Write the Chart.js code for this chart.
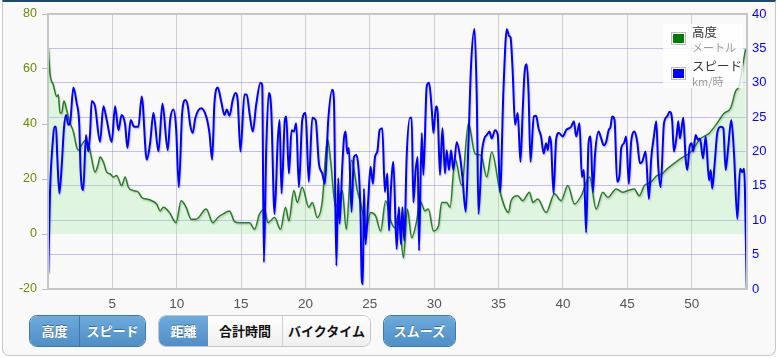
<!DOCTYPE html>
<html>
<head>
<meta charset="utf-8">
<script src="https://cdn.jsdelivr.net/npm/chart.js@4.4.1/dist/chart.umd.min.js"></script>
<style>
body{margin:0;background:#fff;width:778px;height:358px;overflow:hidden;font-family:"Liberation Sans",Arial,sans-serif}
#panel{position:absolute;left:2px;top:0;width:772px;height:353px;background:#f9f9f9;border:1px solid #c8c8c8;border-top:2px solid #1d4b6d;border-radius:0 0 7px 7px}
#c{position:absolute;left:0;top:0}
#legend{position:absolute;left:663px;top:24px;width:80px;height:64px;background:rgba(255,255,255,0.78)}
.sw{position:absolute;left:8px;width:11px;height:9px;border:1px solid #bdbdbd;padding:1px;background:#fff}
.sw i{display:block;width:11px;height:9px}
.lt{position:absolute;left:29px;line-height:14px;white-space:nowrap;font-family:"Noto Sans CJK JP",sans-serif}
.t1{color:#333;font-size:12.5px}
.t2{color:#999;font-size:11px}
.grp{position:absolute;top:315px;height:30px;display:flex;border-radius:8px;overflow:hidden;border:1px solid #3a78ad}
.grp.w{border-color:#c4c4c4}
.b{height:30px;line-height:30px;text-align:center;font-size:13px;font-weight:bold;font-family:"Noto Sans CJK JP",sans-serif;box-sizing:border-box}
.on{background:linear-gradient(#6eaadb,#4f8fc7);color:#fff;text-shadow:0 -1px 0 rgba(0,0,0,0.35)}
.off{background:linear-gradient(#ffffff,#efefef);color:#111}
</style>
</head>
<body>
<div id="panel"></div>
<canvas id="c" width="778" height="312"></canvas>

<div id="legend">
  <div class="sw" style="top:8px"><i style="background:#007a00"></i></div>
  <div class="lt t1" style="top:1px">高度</div>
  <div class="lt t2" style="top:16px">メートル</div>
  <div class="sw" style="top:43px"><i style="background:#0000ff"></i></div>
  <div class="lt t1" style="top:35px">スピード</div>
  <div class="lt t2" style="top:50px">km/時</div>
</div>

<div class="grp" style="left:29px;width:115px">
  <div class="b on" style="width:50px;border-right:1px solid #3a78ad">高度</div>
  <div class="b on" style="width:65px">スピード</div>
</div>
<div class="grp w" style="left:158px;width:211px">
  <div class="b on" style="width:49px">距離</div>
  <div class="b off" style="width:75px;border-right:1px solid #d0d0d0">合計時間</div>
  <div class="b off" style="width:87px">バイクタイム</div>
</div>
<div class="grp" style="left:383px;width:71px">
  <div class="b on" style="width:71px">スムーズ</div>
</div>

<script>
// 距離 (km) と 高度 (m)
const elevKm = [0.02,0.16,0.41,0.67,0.80,0.93,1.06,1.24,1.45,1.71,
  1.97,2.22,2.36,2.61,2.88,3.13,3.39,3.65,3.91,4.04,
  4.30,4.56,4.82,5.08,5.33,5.72,5.99,6.24,6.63,7.02,
  7.28,7.67,8.06,8.44,8.71,8.97,
  9.43,9.95,10.34,10.73,11.12,11.51,12.29,12.80,13.19,13.58,
  14.10,14.49,14.88,15.66,16.04,16.43,16.82,17.08,17.60,18.06,
  18.45,18.71,19.10,19.36,19.75,20.26,20.53,20.92,21.31,21.70,
  21.95,22.34,22.86,23.17,23.58,24.03,24.42,24.67,25.06,25.45,
  25.84,26.23,26.62,
  26.95,27.22,27.61,27.92,28.25,28.64,28.90,29.28,29.55,29.94,
  30.33,30.58,30.97,31.23,31.62,32.14,32.66,33.17,33.64,34.08,
  34.47,35.12,35.77,
  35.97,36.49,36.88,37.40,37.66,38.05,38.69,39.35,39.86,40.38,
  40.90,41.42,42.07,42.58,43.10,43.49,44.14,44.66,45.05,
  45.54,45.93,46.32,46.81,47.33,47.71,48.10,48.62,49.14,49.92,
  50.70,51.35,51.87,52.52,53.03,53.41,53.67,53.93,54.19];
const elevM = [67.8,58,54.3,50,50.6,44,44,48.5,45,40.4,
  37.2,31.7,30.5,32.3,34,33,27.4,22.5,25.6,28,
  26.2,22.5,21.9,20.7,21.3,17.6,20.7,17,15.8,15.2,
  13.3,12.7,12.1,10.9,8.4,9.7,
  7.8,4.1,12.1,9.7,5.4,5.4,9.1,4.1,6.0,7.2,
  8.4,4.5,4.1,4.1,1.7,7.2,9.1,4.1,6.0,1.7,
  9.7,4.8,15.8,11.5,17,9.7,11.5,6,12.1,34.7,
  26.8,9.7,15.8,1.7,26.8,15.8,8.4,1.1,7.8,6.6,
  1.1,12.1,4.8,
  2.3,7.2,-8.7,9.1,-1.4,4.8,12.1,8.4,9.1,1.1,
  2.9,11.5,11.5,9.7,27.4,17.6,40.3,29.2,28.6,20.7,
  29.8,15.2,7.8,
  12.1,13.9,12.1,15.2,11.5,12.7,7.8,14.6,12.1,17.6,
  10.9,13.9,20.7,9.1,15.2,13.3,16.4,15.2,15.8,
  16.4,13.9,17.6,18.8,21.3,21.9,23.7,25.6,27.4,29.8,
  34.7,36.6,39.6,43.9,45.8,51.9,53.7,60.4,67.2];

// 距離 (km) と スピード (km/時)
const speedKm = [0.02,0.16,0.36,0.49,0.62,0.72,0.88,1.06,1.24,1.40,
  1.58,1.71,1.97,2.22,2.43,2.53,2.74,2.95,3.13,3.27,
  3.39,3.65,4.04,4.30,4.56,4.95,5.21,5.47,5.72,5.99,
  6.17,6.42,6.69,7.02,7.28,7.67,7.93,8.19,8.58,8.89,
  9.30,9.49,9.74,9.95,10.16,10.42,10.68,10.86,11.04,11.24,
  11.45,11.90,12.29,12.54,12.75,12.93,13.19,13.45,13.71,13.89,
  14.10,14.35,14.56,14.74,14.95,15.26,15.44,15.65,15.91,16.17,
  16.51,16.64,16.77,16.95,17.15,17.34,17.60,17.85,17.99,
  18.14,18.40,18.51,18.71,18.92,19.10,19.28,19.49,19.75,20.01,
  20.26,20.53,20.79,21.04,21.31,21.51,21.77,22.08,22.21,22.40,
  22.55,22.65,22.86,22.99,23.12,23.25,23.37,23.58,23.76,23.95,
  24.15,24.28,24.36,24.46,24.54,24.67,24.88,25.06,25.24,25.40,
  25.58,25.76,25.97,26.17,26.36,26.49,26.62,
  26.83,27.08,27.26,27.42,27.53,27.68,27.86,28.12,28.25,28.38,
  28.56,28.72,28.82,29.03,29.16,29.42,29.60,29.81,29.94,30.14,
  30.27,30.45,30.64,30.84,30.97,31.15,31.31,31.49,31.75,32.01,
  32.19,32.45,32.66,32.86,33.13,33.31,33.44,33.70,33.90,34.08,
  34.29,34.47,34.73,34.94,35.12,35.38,35.64,35.82,
  35.93,36.10,36.28,36.49,36.70,36.88,37.01,37.19,37.33,37.48,
  37.74,37.92,38.10,38.30,38.51,38.69,38.83,38.96,39.08,39.27,
  39.47,39.68,39.99,40.25,40.64,40.85,41.03,41.29,41.47,41.63,
  41.80,41.99,42.15,42.33,42.50,42.77,42.97,43.18,43.36,43.55,
  43.70,43.83,44.01,44.21,44.40,44.53,44.74,44.91,
  45.12,45.30,45.57,45.77,45.98,46.16,46.42,46.68,46.86,47.07,
  47.25,47.40,47.59,47.85,48.10,48.29,48.49,48.62,48.83,48.96,
  49.09,49.35,49.53,49.66,49.84,50.00,50.12,50.31,50.49,50.65,
  50.88,51.09,51.35,51.48,51.60,51.79,51.99,52.26,52.46,52.64,
  52.82,53.08,53.29,53.55,53.76,53.93,54.07,54.28];
const speedKmh = [2.4,14.4,21.2,23.6,23.6,19.2,13.9,17.8,23.4,25.3,
  23.9,24.1,29.3,27.1,23.9,17.3,14.4,22.4,20.0,22.7,
  27.3,26.6,21.4,26.6,24.6,21.4,26.6,23.1,25.3,23.9,
  20.5,24.6,23.6,23.6,28.0,18.8,21.2,25.6,20.0,27.0,
  20.2,24.6,26.1,23.4,14.8,25.6,27.5,26.6,23.9,22.7,
  24.9,26.3,25.1,22.7,18.8,27.1,29.3,27.3,25.3,26.1,
  25.2,27.5,28.5,27.3,20.0,28.3,28.3,25.6,22.9,26.8,
  30.0,29.7,3.9,20.2,28.5,26.1,10.9,21.7,24.6,
  13.9,24.6,25.1,16.8,23.1,22.9,24.1,14.8,24.6,25.6,
  15.6,24.9,24.6,18.3,16.8,15.3,24.6,29.0,27.5,3.4,
  16.1,9.5,17.8,21.9,22.9,19.7,20.5,11.2,19.2,19.5,
  16.8,10.7,1.9,0.7,14.6,6.5,13.1,17.8,15.3,19.2,
  20.0,23.1,23.4,14.1,16.8,8.5,13.9,
  18.5,5.8,11.9,6.5,11.9,7.0,19.2,24.9,24.9,12.6,
  17.3,19.2,5.6,22.7,16.6,29.5,30.0,26.1,22.7,26.6,
  25.6,16.6,23.4,16.8,20.2,17.3,20.2,17.3,21.4,19.2,
  16.3,11.2,21.2,32.4,37.8,27.5,10.9,19.7,21.9,22.4,
  22.9,21.9,23.1,22.4,14.1,29.0,37.8,36.8,
  36.6,31.5,23.9,25.6,18.5,26.1,31.2,32.7,28.5,18.5,
  25.1,25.2,23.4,22.2,19.7,21.2,20.2,22.2,21.2,13.9,
  21.7,22.7,22.2,23.1,23.6,24.4,22.2,24.1,16.3,17.3,
  8.2,21.2,22.2,14.1,19.7,22.9,21.9,20.9,21.4,23.1,
  23.6,25.1,24.6,15.6,16.6,20.5,21.2,22.2,
  15.3,21.4,22.9,21.4,18.3,18.5,20.0,13.1,19.0,22.2,
  24.4,18.0,14.8,24.1,25.1,25.8,24.4,20.0,22.2,24.4,
  21.9,24.9,19.0,17.3,20.7,21.2,20.0,22.4,21.7,21.9,
  19.0,22.2,15.8,17.3,14.6,18.3,22.7,23.6,23.4,17.3,
  20.2,24.6,19.7,10.2,17.5,17.0,17.5,0.2];

// 軸の範囲と目盛り
const distMax = 54.3, distStep = 5;
const elevMin = -20, elevMax = 80, elevStep = 20;
const speedMin = 0, speedMax = 40, speedStep = 5;

const toPoints = (xs, ys) => xs.map((x, i) => ({x: x, y: ys[i]}));

// 線の影（塗りつぶしの後に設定）
const lineShadow = {
  id: 'lineShadow',
  beforeDatasetDraw(chart) {
    const ctx = chart.ctx;
    ctx.save();
    ctx.shadowColor = 'rgba(0,0,0,0.18)';
    ctx.shadowOffsetX = 1;
    ctx.shadowOffsetY = 1.5;
    ctx.shadowBlur = 1.5;
  },
  afterDatasetDraw(chart) {
    chart.ctx.restore();
  }
};

// プロットエリアの枠
const frame = {
  id: 'frame',
  afterDraw(chart) {
    const {ctx, chartArea: a} = chart;
    ctx.save();
    ctx.strokeStyle = '#c6c6c6';
    ctx.lineWidth = 2;
    ctx.strokeRect(a.left, a.top, a.right - a.left, a.bottom - a.top);
    ctx.restore();
  }
};

const tickFont = {family: '"Liberation Sans", Arial, sans-serif', size: 13};

new Chart(document.getElementById('c'), {
  type: 'line',
  data: {
    datasets: [
      {
        label: 'スピード',
        data: toPoints(speedKm, speedKmh),
        yAxisID: 'y1',
        borderColor: '#0000ff',
        borderWidth: 2,
        pointRadius: 0,
        fill: false,
        cubicInterpolationMode: 'monotone'
      },
      {
        label: '高度',
        data: toPoints(elevKm, elevM),
        yAxisID: 'y',
        borderColor: '#237d23',
        borderWidth: 1.5,
        pointRadius: 0,
        fill: 'origin',
        backgroundColor: 'rgba(150,235,150,0.25)',
        cubicInterpolationMode: 'monotone'
      }
    ]
  },
  options: {
    responsive: false,
    animation: false,
    devicePixelRatio: 1,
    layout: {padding: {top: 14, left: 0, right: 0, bottom: 0}},
    plugins: {legend: {display: false}, tooltip: {enabled: false}},
    scales: {
      x: {
        type: 'linear', min: 0, max: distMax,
        ticks: {stepSize: distStep, includeBounds: false, autoSkip: false, maxRotation: 0,
          callback: v => v === 0 ? '' : v, color: '#555', font: {...tickFont, size: 13.5}, padding: 7},
        grid: {color: '#cfcfcf', drawTicks: false},
        border: {display: false},
        afterFit: s => { s.height = 23; }
      },
      y: {
        position: 'left', min: elevMin, max: elevMax,
        ticks: {stepSize: elevStep, color: '#6a8c00', font: {...tickFont, size: 12.5}, padding: 5},
        grid: {drawOnChartArea: false, drawTicks: true, tickLength: 6, color: '#bbbbbb'},
        border: {display: false},
        afterFit: s => { s.width = 48; }
      },
      y1: {
        position: 'right', min: speedMin, max: speedMax,
        ticks: {stepSize: speedStep, color: '#0000ff', font: tickFont, padding: 5},
        grid: {color: 'rgba(120,120,235,0.45)', drawTicks: false},
        border: {display: false},
        afterFit: s => { s.width = 31; }
      }
    }
  },
  plugins: [lineShadow, frame]
});
</script>
</body>
</html>
